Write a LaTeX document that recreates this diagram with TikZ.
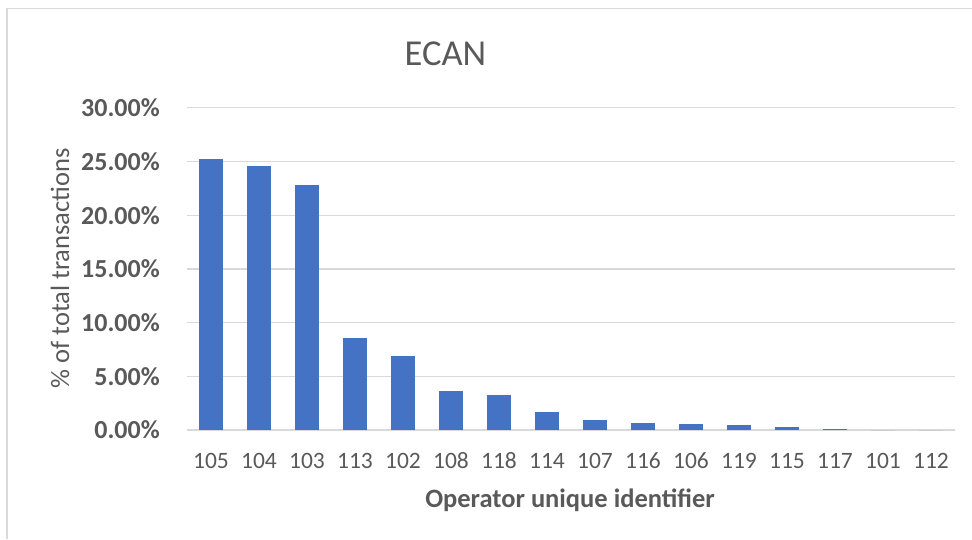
\documentclass[tikz,border=0pt]{standalone}
\usepackage{fontspec}
\setmainfont{Carlito}
\usepackage{tikz}
\definecolor{BarBlue}{HTML}{4472C4}
\definecolor{GridGray}{HTML}{D9D9D9}
\definecolor{TextGray}{HTML}{595959}
\tikzstyle{gridline} = [draw=GridGray, line width=1.3pt]
\tikzstyle{bar} = [fill=BarBlue]
\tikzstyle{ticklabel} = [text=TextGray, font=\fontsize{26}{30}\selectfont\bfseries, anchor=east, inner sep=0pt]
\tikzstyle{catlabel} = [text=TextGray, font=\fontsize{23.5}{28}\selectfont, inner sep=0pt]
\tikzstyle{axistitle} = [text=TextGray, font=\fontsize{26.5}{30}\selectfont, inner sep=0pt]

\begin{document}
\begin{tikzpicture}[x=1pt, y=-1pt]
		\useasboundingbox (0,0) rectangle (972,539);
		\draw [gridline] (7,539) -- (7,8.5) -- (972,8.5);

		\foreach \v in {0,5,...,30} {
			\draw [gridline] (187,{430-10.74*\v}) -- (955,{430-10.74*\v});
			\node (Tick\v) [ticklabel] at (160,{430-10.74*\v}) {\v.00\%};
		}

		\foreach \id/\val [count=\i] in {105/25.22, 104/24.62, 103/22.83, 113/8.55, 102/6.87, 108/3.6, 118/3.3, 114/1.72, 107/0.93, 116/0.62, 106/0.59, 119/0.48, 115/0.26, 117/0.05, 101/0, 112/0} {
			\fill [bar] ({187+48*(\i-1)+12},430) rectangle ({187+48*(\i-1)+36},{430-10.74*\val});
			\node (Operator\id) [catlabel] at ({187+48*\i-24},461) {\id};
		}

		\node (Title) [axistitle, font=\fontsize{36.5}{42}\selectfont] at (445.5,54) {ECAN};
		\node (AxisTitleX) [axistitle, font=\fontsize{26.5}{30}\selectfont\bfseries] at (570,500) {Operator unique identifier};
		\node (AxisTitleY) [axistitle, rotate=90] at (60,268.3) {\% of total transactions};
\end{tikzpicture}
\end{document}
